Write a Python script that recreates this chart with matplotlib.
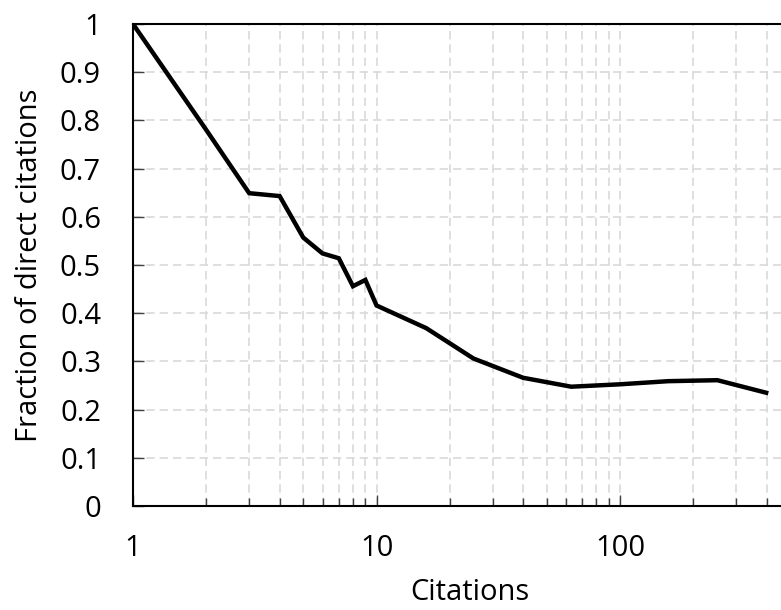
import matplotlib
matplotlib.use("Agg")
import matplotlib.pyplot as plt
from matplotlib.ticker import LogLocator, FixedLocator, NullFormatter, FuncFormatter

citations = [1, 2, 3, 4, 5, 6, 7, 8, 9, 10, 16, 25, 40, 63, 100, 158, 251, 398]
fraction = [1.0, 0.78, 0.649, 0.643, 0.557, 0.524, 0.514, 0.456, 0.469, 0.416,
            0.369, 0.306, 0.266, 0.2475, 0.2525, 0.259, 0.261, 0.235]
y_ticks = [0, 0.1, 0.2, 0.3, 0.4, 0.5, 0.6, 0.7, 0.8, 0.9, 1]
y_tick_labels = ["0", "0.1", "0.2", "0.3", "0.4", "0.5", "0.6", "0.7", "0.8", "0.9", "1"]
x_label = "Citations"
y_label = "Fraction of direct citations"

plt.rcParams['font.family'] = ['Open Sans', 'DejaVu Sans']

fig = plt.figure(figsize=(7.81, 6.10), dpi=100)
ax = fig.add_axes([133/781, 104/610, 1 - 133/781, 482/610])

ax.plot(citations, fraction, color='black', lw=3.2, solid_joinstyle='miter', zorder=3)

ax.set_xscale('log')
ax.set_xlim(1, 458)
ax.set_ylim(0, 1)

ax.xaxis.set_major_locator(FixedLocator([1, 10, 100]))
ax.xaxis.set_major_formatter(FuncFormatter(lambda v, p: f"{int(round(v))}"))
ax.xaxis.set_minor_locator(LogLocator(base=10, subs=range(2, 10), numticks=20))
ax.xaxis.set_minor_formatter(NullFormatter())
ax.set_yticks(y_ticks)
ax.set_yticklabels(y_tick_labels)

grid_kw = dict(color='#d9d9d9', linestyle=(0, (5, 3)), linewidth=1.2)
ax.grid(True, which='major', axis='both', **grid_kw)
ax.grid(True, which='minor', axis='x', **grid_kw)
ax.set_axisbelow(True)

ax.tick_params(axis='both', which='major', direction='in', length=8, width=1,
               labelsize=21, pad=20, color='#404040')
ax.tick_params(axis='x', which='minor', direction='in', length=6, width=1, color='#404040')
ax.tick_params(axis='y', which='major', pad=23)

for s in ['left', 'bottom', 'top']:
    ax.spines[s].set_linewidth(1.5)
    ax.spines[s].set_color('black')
ax.spines['right'].set_visible(False)

ax.set_xlabel(x_label, fontsize=21)
ax.set_ylabel(y_label, fontsize=21)
ax.xaxis.set_label_coords((470-133)/648, (506-593)/482)
ax.yaxis.set_label_coords((30-133)/648, 0.5)
ax.xaxis.label.set_verticalalignment('center')
ax.yaxis.label.set_verticalalignment('center')

fig.savefig("out.png", dpi=100)
